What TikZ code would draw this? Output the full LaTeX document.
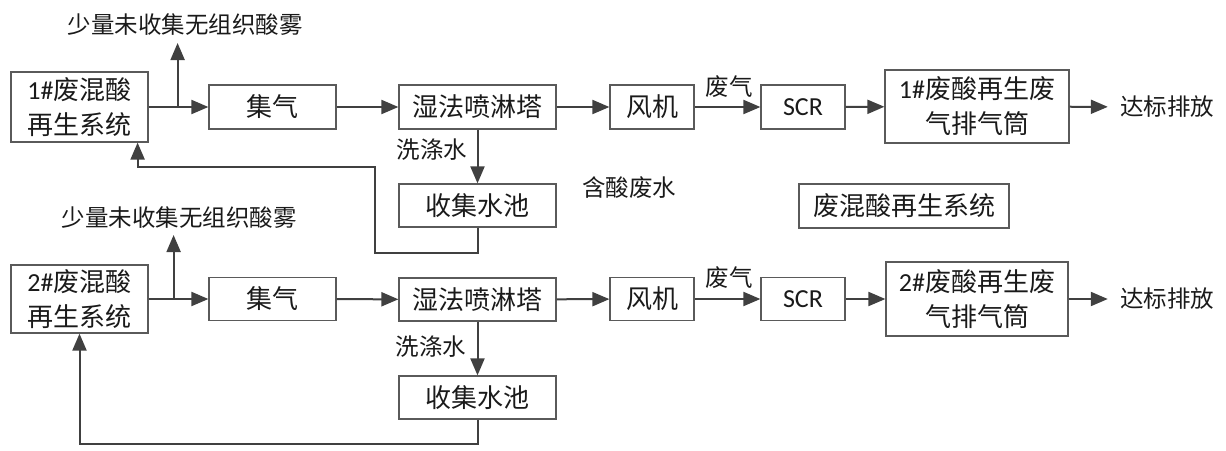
\documentclass[tikz,border=0pt]{standalone}
\usepackage{fontspec}
\setmainfont{Carlito}
\newfontfamily\cjkfont{Noto Sans CJK SC}
\usepackage{tikz}
\usetikzlibrary{arrows.meta}

\definecolor{linegray}{HTML}{404040}
\definecolor{boxgray}{HTML}{5A5A5A}
\definecolor{textgray}{HTML}{1A1A1A}

\tikzset{
	unitbox/.style = {draw = boxgray, line width = 1.2pt, inner sep = 0pt,
		align = center, text = textgray,
		font = \cjkfont\fontsize{26}{35}\selectfont},
	flow/.style = {draw = linegray, line width = 2pt,
		-{Triangle[length = 17pt, width = 14pt]}},
	note/.style = {inner sep = 1pt, text = textgray,
		font = \cjkfont\fontsize{23.5}{27}\selectfont}
}

\begin{document}
\begin{tikzpicture}[x = 1pt, y = -1pt]

\useasboundingbox (0, 0) rectangle (1226, 450);

%line 1 start
\node[unitbox, minimum width = 137, minimum height = 70] (sysA) at (79.5, 107)
	{{\rmfamily 1\#}废混酸\\再生系统};
\node[unitbox, minimum width = 127, minimum height = 44] (jqA) at (272.5, 107) {集气};
\node[unitbox, minimum width = 157, minimum height = 44] (towerA) at (477.5, 107) {湿法喷淋塔};
\node[unitbox, minimum width = 84, minimum height = 44] (fanA) at (652, 107) {风机};
\node[unitbox, minimum width = 84, minimum height = 44] (scrA) at (803, 107) {\rmfamily SCR};
\node[unitbox, minimum width = 184, minimum height = 73] (stackA) at (977, 106.5)
	{{\rmfamily 1\#}废酸再生废\\气排气筒};
\node[note, inner xsep = 12pt] (outA) at (1167, 107) {达标排放};
\node[unitbox, minimum width = 157, minimum height = 43] (poolA) at (477.5, 205.5) {收集水池};

\node[note] (mistA) at (185, 25) {少量未收集无组织酸雾};
\node[note] (washA) at (432, 150) {洗涤水};
\node[note] (gasA) at (729, 87) {废气};
\node[note] (acidwater) at (629, 188) {含酸废水};
\node[unitbox, minimum width = 210, minimum height = 44] (legend) at (904, 206) {废混酸再生系统};

\draw[flow] (sysA) -- (jqA);
\draw[flow] ([xshift = 29]sysA.east) -- ++(0, -64);
\draw[flow] (jqA) -- (towerA);
\draw[flow] (towerA) -- (fanA);
\draw[flow] (fanA) -- (scrA);
\draw[flow] (scrA) -- (stackA);
\draw[flow] (stackA) -- (outA);
\draw[flow] (towerA) -- (poolA);
\draw[flow] (poolA.south) -- ++(0, 25) -| (375, 167) -| ([xshift = -11]sysA.south east);
%line 1 end

%line 2 start
\node[unitbox, minimum width = 137, minimum height = 68] (sysB) at (79.5, 299)
	{{\rmfamily 2\#}废混酸\\再生系统};
\node[unitbox, minimum width = 127, minimum height = 43] (jqB) at (272.5, 299) {集气};
\node[unitbox, minimum width = 157, minimum height = 43] (towerB) at (477.5, 299.5) {湿法喷淋塔};
\node[unitbox, minimum width = 84, minimum height = 43] (fanB) at (652, 299) {风机};
\node[unitbox, minimum width = 84, minimum height = 43] (scrB) at (803, 299) {\rmfamily SCR};
\node[unitbox, minimum width = 182, minimum height = 74] (stackB) at (977, 299)
	{{\rmfamily 2\#}废酸再生废\\气排气筒};
\node[note, inner xsep = 12pt] (outB) at (1167, 299) {达标排放};
\node[unitbox, minimum width = 157, minimum height = 43] (poolB) at (477.5, 397.5) {收集水池};

\node[note] (mistB) at (179, 218) {少量未收集无组织酸雾};
\node[note] (washB) at (431, 347) {洗涤水};
\node[note] (gasB) at (729, 278) {废气};

\draw[flow] (sysB) -- (jqB);
\draw[flow] ([xshift = 25]sysB.east) -- ++(0, -64);
\draw[flow] (jqB) -- (towerB);
\draw[flow] (towerB) -- (fanB);
\draw[flow] (fanB) -- (scrB);
\draw[flow] (scrB) -- (stackB);
\draw[flow] (stackB) -- (outB);
\draw[flow] (towerB) -- (poolB);
\draw[flow] (poolB.south) -- ++(0, 24) -| (sysB.south);
%line 2 end

\end{tikzpicture}
\end{document}
